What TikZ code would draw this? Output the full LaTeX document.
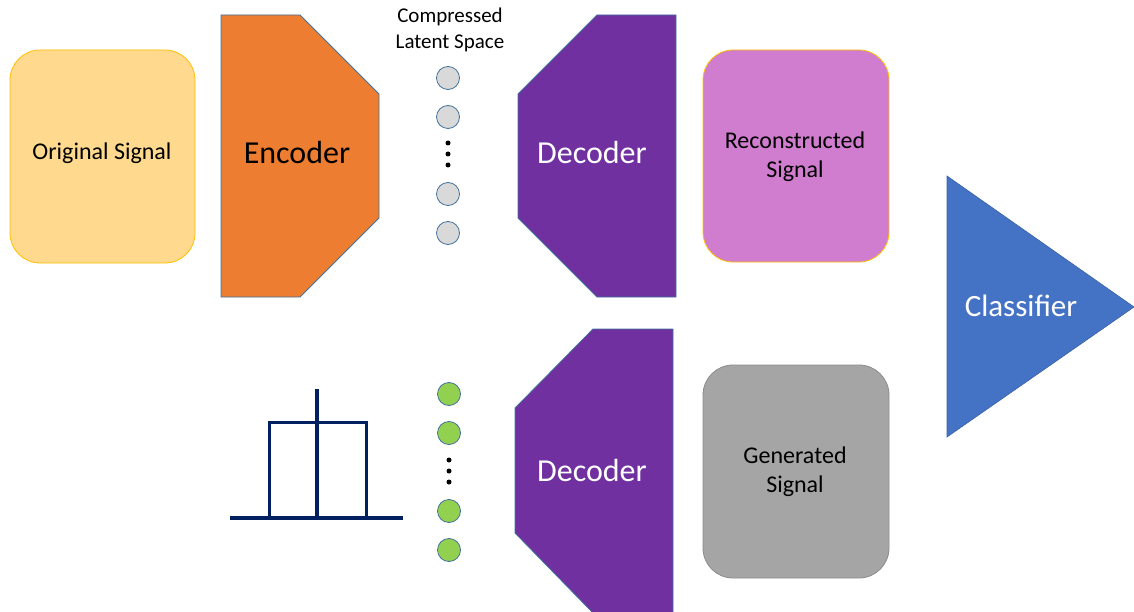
\documentclass[tikz,border=0pt]{standalone}
\usepackage{fontspec}
\setmainfont{Carlito}
\definecolor{origfill}{RGB}{254,217,142}
\definecolor{gold}{RGB}{255,192,0}
\definecolor{encfill}{RGB}{237,125,49}
\definecolor{shapeedge}{RGB}{65,113,156}
\definecolor{decfill}{RGB}{112,48,160}
\definecolor{recfill}{RGB}{208,124,207}
\definecolor{genfill}{RGB}{165,165,165}
\definecolor{genedge}{RGB}{140,140,140}
\definecolor{clsfill}{RGB}{68,114,196}
\definecolor{latgray}{RGB}{217,217,217}
\definecolor{latgreen}{RGB}{146,208,80}
\definecolor{navy}{RGB}{0,32,96}
\tikzset{
  sigbox/.style={rounded corners=30pt, line width=0.8pt},
  block/.style={draw=shapeedge, line width=0.8pt},
  bigtxt/.style={font=\fontsize{32}{38}\selectfont, inner sep=0pt},
  clstxt/.style={font=\fontsize{31}{37}\selectfont, inner sep=0pt},
  midtxt/.style={font=\fontsize{24}{29}\selectfont, align=center, inner sep=0pt},
  smalltxt/.style={font=\fontsize{21}{26}\selectfont, align=center, inner sep=0pt},
  latent/.style={circle, draw=shapeedge, line width=0.8pt, minimum size=23pt, inner sep=0pt},
  dot/.style={circle, fill=black, minimum size=5pt, inner sep=0pt},
  icon/.style={draw=navy, line width=3.5pt}
}
\begin{document}
\begin{tikzpicture}[x=1pt,y=-1pt]
\useasboundingbox (0,0) rectangle (1134,612);

% Original signal
\draw[sigbox, draw=gold, fill=origfill] (10,50) rectangle (195,263);
\node[midtxt] (orig) at (102,153) {Original Signal};

% Encoder
\draw[block, fill=encfill] (221,15) -- (300,15) -- (379,94) -- (379,218) -- (300,297) -- (221,297) -- cycle;
\node[bigtxt] (enc) at (297,153) {Encoder};

% Compressed latent space
\node[smalltxt] (cls) at (450,30) {Compressed\\Latent Space};
\node[latent, fill=latgray] (g1) at (448,78) {};
\node[latent, fill=latgray] (g2) at (448,117) {};
\node[dot] (gd1) at (448,143) {};
\node[dot] (gd2) at (448,154) {};
\node[dot] (gd3) at (448,165) {};
\node[latent, fill=latgray] (g3) at (448,194) {};
\node[latent, fill=latgray] (g4) at (448,233) {};

% Top decoder
\draw[block, fill=decfill] (597,15) -- (676,15) -- (676,297) -- (597,297) -- (518,218) -- (518,94) -- cycle;
\node[bigtxt, text=white] (dec1) at (592,153) {Decoder};

% Reconstructed
\draw[sigbox, draw=gold, fill=recfill] (703,50) rectangle (889,262);
\node[midtxt] (rec) at (795,157) {Reconstructed\\Signal};

% Distribution icon
\draw[icon, line width=3pt] (269,518) -- (269,422) -- (366,422) -- (366,518);
\draw[icon] (317,389) -- (317,518);
\draw[icon] (230,518) -- (403,518);

% Green latent
\node[latent, fill=latgreen] (n1) at (449,394) {};
\node[latent, fill=latgreen] (n2) at (449,433) {};
\node[dot] (nd1) at (449,460) {};
\node[dot] (nd2) at (449,471) {};
\node[dot] (nd3) at (449,482) {};
\node[latent, fill=latgreen] (n3) at (449,511) {};
\node[latent, fill=latgreen] (n4) at (449,550) {};

% Bottom decoder
\draw[block, fill=decfill] (593,329) -- (673,329) -- (673,613) -- (593,613) -- (515,533) -- (515,408) -- cycle;
\node[bigtxt, text=white] (dec2) at (592,470) {Decoder};

% Generated
\draw[sigbox, draw=genedge, fill=genfill] (703,365) rectangle (889,578);
\node[midtxt] (gen) at (795,472) {Generated\\Signal};

% Classifier
\draw[draw=clsfill!85!black, line width=0.6pt, fill=clsfill] (947,176) -- (1134,307) -- (947,437) -- cycle;
\node[clstxt, text=white] (clf) at (1021,306) {Classifier};
\end{tikzpicture}
\end{document}
